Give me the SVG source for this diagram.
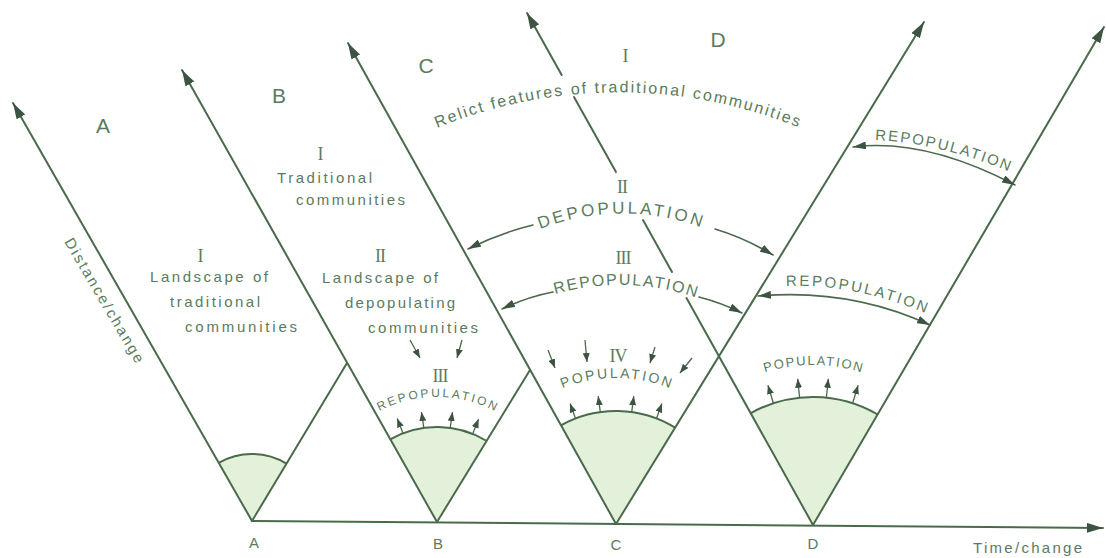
<svg xmlns="http://www.w3.org/2000/svg" width="1106" height="558" viewBox="0 0 1106 558">
  <style>
    .ln { fill: none; stroke: #4a6a4c; stroke-width: 2; stroke-linecap: round; }
    .thin { fill: none; stroke: #4a6a4c; stroke-width: 1.6; stroke-linecap: round; }
    .tiny { fill: none; stroke: #4a6a4c; stroke-width: 1.3; }
    .sector { fill: #e3f1da; stroke: none; }
    .rim { fill: none; stroke: #4a6a4c; stroke-width: 2; }
    text { font-family: "Liberation Sans", Arial, sans-serif; fill: #5b7b5d; }
    .big { font-size: 21px; }
    .lbl { font-size: 15px; }
    .num { font-family: "Liberation Serif", "Times New Roman", serif; font-size: 18px; letter-spacing: -1px; }
    .cap { font-size: 17px; }
  </style>
  <defs>
    <marker id="head" viewBox="0 0 16 10" refX="16" refY="5" markerWidth="16" markerHeight="10" markerUnits="userSpaceOnUse" orient="auto">
      <path d="M0,0 L16,5 L0,10 Z" fill="#3e5442"/>
    </marker>
    <marker id="mid" viewBox="0 0 13 8" refX="13" refY="4" markerWidth="13" markerHeight="8" markerUnits="userSpaceOnUse" orient="auto-start-reverse">
      <path d="M0,0 L13,4 L0,8 Z" fill="#3e5442"/>
    </marker>
    <marker id="small" viewBox="0 0 9 7" refX="9" refY="3.5" markerWidth="9" markerHeight="7" markerUnits="userSpaceOnUse" orient="auto">
      <path d="M0,0 L9,3.5 L0,7 Z" fill="#3e5442"/>
    </marker>
    <!-- baselines for lettering that follows a curve -->
    <path id="p-relict" d="M437,128 A480,480 0 0 1 800,128"/>
    <path id="p-depop" d="M540,229 A229,229 0 0 1 703,228"/>
    <path id="p-repopC" d="M555,294 A235,235 0 0 1 697,298"/>
    <path id="p-repopD1" d="M875,140 Q940,143 1010,172"/>
    <path id="p-repopD2" d="M786,286 Q852,283 928,314"/>
    <path id="p-repopB" d="M374.5,413.7 A125,125 0 0 1 499.5,413.7"/>
    <path id="p-popC" d="M543.5,397.4 A145,145 0 0 1 688.5,397.4"/>
    <path id="p-popD" d="M733,386.4 A160,160 0 0 1 893,386.4"/>
  </defs>

  <!-- shaded settlement cores -->
  <g id="cores">
    <path class="sector" d="M252,521 L218.7,462.8 A67,67 0 0 1 286.5,463.6 Z"/>
    <path class="sector" d="M437,522 L390.3,439.3 A95,95 0 0 1 485.8,440.5 Z"/>
    <path class="sector" d="M616,524 L560.9,425.3 A113,113 0 0 1 675.2,427.7 Z"/>
    <path class="sector" d="M813,525 L750.5,413.3 A128,128 0 0 1 877.7,414.5 Z"/>
    <path class="rim" d="M218.7,462.8 A67,67 0 0 1 286.5,463.6"/>
    <path class="rim" d="M390.3,439.3 A95,95 0 0 1 485.8,440.5"/>
    <path class="rim" d="M560.9,425.3 A113,113 0 0 1 675.2,427.7"/>
    <path class="rim" d="M750.5,413.3 A128,128 0 0 1 877.7,414.5"/>
  </g>

  <!-- axes and the V frames -->
  <g id="connectors">
    <path class="ln" d="M252,521 L1103,528" marker-end="url(#head)"/>
    <path class="ln" d="M252,521 L13,103" marker-end="url(#head)"/>
    <path class="ln" d="M252,521 L347,363"/>
    <path class="ln" d="M437,522 L182,70" marker-end="url(#head)"/>
    <path class="ln" d="M437,522 L530,370"/>
    <path class="ln" d="M616,524 L348,43" marker-end="url(#head)"/>
    <path class="ln" d="M616,524 L924,22" marker-end="url(#head)"/>
    <path class="ln" d="M813,525 L686.5,298"/>
    <path class="ln" d="M672,272 L643,220"/>
    <path class="ln" d="M616,172 L574,97"/>
    <path class="ln" d="M561.7,75 L527,13" marker-end="url(#head)"/>
    <path class="ln" d="M813,525 L1104,27" marker-end="url(#head)"/>

    <!-- curved flow arrows -->
    <path class="thin" d="M533,225 Q500,233 468,249" marker-end="url(#mid)"/>
    <path class="thin" d="M715,229 Q745,238 773,255" marker-end="url(#mid)"/>
    <path class="thin" d="M553,292 Q527,297 502,309" marker-end="url(#mid)"/>
    <path class="thin" d="M699,297 Q722,303 742,313" marker-end="url(#mid)"/>
    <path class="thin" d="M853,147 Q925,138 1015,185" marker-start="url(#mid)" marker-end="url(#mid)"/>
    <path class="thin" d="M758,296 Q850,288 930,325" marker-start="url(#mid)" marker-end="url(#mid)"/>

    <!-- inward pressure arrows -->
    <path class="tiny" d="M410,340 L420,358" marker-end="url(#small)"/>
    <path class="tiny" d="M462,340 L457,358" marker-end="url(#small)"/>
    <path class="tiny" d="M548,350 L555,368" marker-end="url(#small)"/>
    <path class="tiny" d="M585,340 L587,362" marker-end="url(#small)"/>
    <path class="tiny" d="M655,347 L650,363" marker-end="url(#small)"/>
    <path class="tiny" d="M692,358 L680,373" marker-end="url(#small)"/>

    <!-- outward growth arrows on the core rims -->
    <path class="tiny" d="M403,433.3 L397.2,418.4" marker-end="url(#small)"/>
    <path class="tiny" d="M423.8,427.9 L421.5,412.1" marker-end="url(#small)"/>
    <path class="tiny" d="M450.2,427.9 L452.5,412.1" marker-end="url(#small)"/>
    <path class="tiny" d="M472.6,433.9 L478.6,419.1" marker-end="url(#small)"/>
    <path class="tiny" d="M575.5,418.5 L570.1,403.5" marker-end="url(#small)"/>
    <path class="tiny" d="M600.3,412.1 L598.2,396.2" marker-end="url(#small)"/>
    <path class="tiny" d="M631.7,412.1 L633.8,396.2" marker-end="url(#small)"/>
    <path class="tiny" d="M656.5,418.5 L661.9,403.5" marker-end="url(#small)"/>
    <path class="tiny" d="M773.4,403.3 L767.9,385.2" marker-end="url(#small)"/>
    <path class="tiny" d="M799.6,397.7 L797.7,378.8" marker-end="url(#small)"/>
    <path class="tiny" d="M826.4,397.7 L828.3,378.8" marker-end="url(#small)"/>
    <path class="tiny" d="M852.6,403.3 L858.1,385.2" marker-end="url(#small)"/>
  </g>

  <!-- axis captions -->
  <g id="axis-labels">
    <text class="lbl" x="254" y="548" text-anchor="middle">A</text>
    <text class="lbl" x="438" y="549" text-anchor="middle">B</text>
    <text class="lbl" x="616" y="550" text-anchor="middle">C</text>
    <text class="lbl" x="813" y="549" text-anchor="middle">D</text>
    <text class="lbl" x="973" y="553" textLength="109">Time/change</text>
    <text class="lbl" transform="translate(100,303) rotate(59.5)" x="0" y="0" text-anchor="middle" textLength="142">Distance/change</text>
  </g>

  <!-- stage A -->
  <g id="stage-A">
    <text class="big" x="103" y="133" text-anchor="middle">A</text>
    <text class="num" x="200" y="262" text-anchor="middle">I</text>
    <text class="lbl" x="209" y="282" text-anchor="middle" textLength="118">Landscape of</text>
    <text class="lbl" x="215" y="307" text-anchor="middle" textLength="90">traditional</text>
    <text class="lbl" x="241" y="332" text-anchor="middle" textLength="112">communities</text>
  </g>

  <!-- stage B -->
  <g id="stage-B">
    <text class="big" x="279" y="103" text-anchor="middle">B</text>
    <text class="num" x="320" y="160" text-anchor="middle">I</text>
    <text class="lbl" x="277" y="183" textLength="95">Traditional</text>
    <text class="lbl" x="296" y="205" textLength="109">communities</text>
    <text class="num" x="380" y="262" text-anchor="middle">II</text>
    <text class="lbl" x="322" y="283" textLength="116">Landscape of</text>
    <text class="lbl" x="345" y="308" textLength="110">depopulating</text>
    <text class="lbl" x="368" y="333" textLength="110">communities</text>
    <text class="num" x="440" y="382" text-anchor="middle">III</text>
    <text style="font-size:12px"><textPath href="#p-repopB" startOffset="50%" text-anchor="middle" textLength="120">REPOPULATION</textPath></text>
  </g>

  <!-- stage C -->
  <g id="stage-C">
    <text class="big" x="426" y="73" text-anchor="middle">C</text>
    <text class="num" x="625" y="62" text-anchor="middle">I</text>
    <text style="font-size:16px"><textPath href="#p-relict" textLength="370">Relict features of traditional communities</textPath></text>
    <text class="num" x="622" y="193" text-anchor="middle">II</text>
    <text style="font-size:17px"><textPath href="#p-depop" textLength="164">DEPOPULATION</textPath></text>
    <text class="num" x="623" y="264" text-anchor="middle">III</text>
    <text style="font-size:16px"><textPath href="#p-repopC" textLength="143">REPOPULATION</textPath></text>
    <text class="num" x="618" y="362" text-anchor="middle">IV</text>
    <text style="font-size:14px"><textPath href="#p-popC" startOffset="50%" text-anchor="middle" textLength="110">POPULATION</textPath></text>
  </g>

  <!-- stage D -->
  <g id="stage-D">
    <text class="big" x="718" y="47" text-anchor="middle">D</text>
    <text style="font-size:15px"><textPath href="#p-repopD1" textLength="138">REPOPULATION</textPath></text>
    <text style="font-size:15px"><textPath href="#p-repopD2" textLength="143">REPOPULATION</textPath></text>
    <text style="font-size:13px"><textPath href="#p-popD" startOffset="50%" text-anchor="middle" textLength="98">POPULATION</textPath></text>
  </g>
</svg>
